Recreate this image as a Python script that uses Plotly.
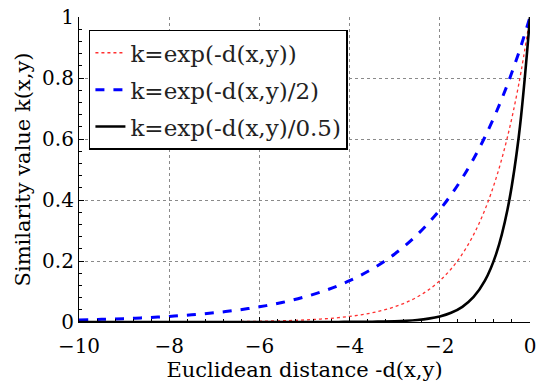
import plotly.graph_objects as go

# Euclidean distance -d(x,y)
x_vals = [-10, -9.75, -9.5, -9.25, -9, -8.75, -8.5, -8.25, -8, -7.75, -7.5, -7.25,
          -7, -6.75, -6.5, -6.25, -6, -5.75, -5.5, -5.25, -5, -4.75, -4.5, -4.25,
          -4, -3.75, -3.5, -3.25, -3, -2.75, -2.5, -2.25, -2, -1.75, -1.5, -1.25,
          -1, -0.75, -0.5, -0.25, 0]

# k = exp(-d(x,y))  (red dotted)
k_red = [0.00005, 0.00006, 0.00007, 0.0001, 0.00012, 0.00016, 0.0002, 0.00026,
         0.00034, 0.00043, 0.00055, 0.00071, 0.00091, 0.0012, 0.0015, 0.0019,
         0.0025, 0.0032, 0.0041, 0.0052, 0.0067, 0.0087, 0.0111, 0.0143, 0.0183,
         0.0235, 0.0302, 0.0388, 0.0498, 0.0639, 0.0821, 0.1054, 0.1353, 0.1738,
         0.2231, 0.2865, 0.3679, 0.4724, 0.6065, 0.7788, 1.0]

# k = exp(-d(x,y)/2)  (blue dashed)
k_blue = [0.0067, 0.0076, 0.0087, 0.0098, 0.0111, 0.0126, 0.0143, 0.0162, 0.0183,
          0.0208, 0.0235, 0.0266, 0.0302, 0.0342, 0.0388, 0.0439, 0.0498, 0.0564,
          0.0639, 0.0724, 0.0821, 0.093, 0.1054, 0.1194, 0.1353, 0.1534, 0.1738,
          0.1969, 0.2231, 0.2528, 0.2865, 0.3247, 0.3679, 0.4169, 0.4724, 0.5353,
          0.6065, 0.6873, 0.7788, 0.8825, 1.0]

# k = exp(-d(x,y)/0.5)  (black solid)
k_black = [0.0, 0.0, 0.0, 0.0, 0.0, 0.0, 0.0, 0.0, 0.0, 0.0, 0.0, 0.0, 0.0, 0.0,
           0.0, 0.0, 0.0, 0.0, 0.0, 0.0, 0.00005, 0.00008, 0.00012, 0.0002, 0.00034,
           0.00055, 0.00091, 0.0015, 0.0025, 0.0041, 0.0067, 0.0111, 0.0183, 0.0302,
           0.0498, 0.0821, 0.1353, 0.2231, 0.3679, 0.6065, 1.0]

names = ["k=exp(-d(x,y))", "k=exp(-d(x,y)/2)", "k=exp(-d(x,y)/0.5)"]

FONT = "DejaVu Serif"
FS = 20
LFS = 23

fig = go.Figure()
fig.add_trace(go.Scatter(x=x_vals, y=k_red, mode="lines", name=names[0], legendgroup="a",
                         line=dict(color="#ff3030", width=1.3, dash="dot", shape="spline")))
fig.add_trace(go.Scatter(x=x_vals, y=k_blue, mode="lines", name=names[1], legendgroup="b",
                         line=dict(color="#0000ff", width=3, dash="dash", shape="spline")))
fig.add_trace(go.Scatter(x=x_vals, y=k_black, mode="lines", name=names[2], legendgroup="c",
                         line=dict(color="black", width=2.6, shape="spline")))

axis_common = dict(
    showgrid=True, gridcolor="#8a8a8a", griddash="dot", gridwidth=1,
    showline=True, linecolor="black", linewidth=1.2,
    ticks="inside", ticklen=5, tickcolor="black", tickwidth=1,
    zeroline=False, ticklabeloverflow="allow",
    tickfont=dict(family=FONT, size=FS, color="black"),
)

fig.update_xaxes(range=[-10, 0], tickvals=[-10, -8, -6, -4, -2, 0],
                 ticklabelstandoff=6,
                 title=dict(text="Euclidean distance -d(x,y)", standoff=0,
                            font=dict(family=FONT, size=FS + 1, color="black")),
                 minor=dict(ticks="inside", ticklen=3, tickcolor="black", dtick=0.4, showgrid=False),
                 **axis_common)
fig.update_yaxes(range=[0, 1], tickvals=[0, 0.2, 0.4, 0.6, 0.8, 1],
                 ticktext=["0", "0.2", "0.4", "0.6", "0.8", "1"],
                 title=dict(text="Similarity value k(x,y)", standoff=5,
                            font=dict(family=FONT, size=FS + 1, color="black")),
                 minor=dict(ticks="inside", ticklen=3, tickcolor="black", dtick=0.04, showgrid=False),
                 **axis_common)

fig.update_layout(
    width=541, height=385,
    margin=dict(l=79, r=5, t=12, b=63),
    plot_bgcolor="white", paper_bgcolor="white",
    font=dict(family=FONT, size=FS, color="black"),
    showlegend=True,
    legend=dict(x=0.022, y=0.958, xanchor="left", yanchor="top",
                bgcolor="white", bordercolor="black", borderwidth=1.5,
                traceorder="grouped", tracegroupgap=4,
                font=dict(family=FONT, size=LFS, color="#222")),
)

fig.write_html("out.html")
